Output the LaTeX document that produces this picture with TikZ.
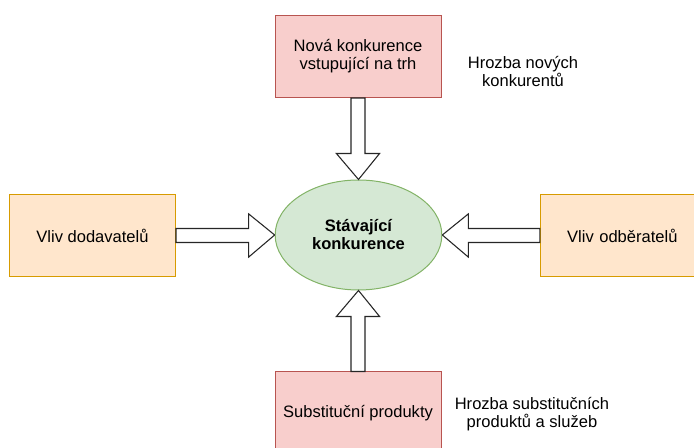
\documentclass[tikz,border=0pt]{standalone}
\usepackage{fontspec}
\setmainfont{Liberation Sans}
\usetikzlibrary{shapes.geometric,calc}
\definecolor{pinkfill}{HTML}{F8CECC}
\definecolor{pinkline}{HTML}{B85450}
\definecolor{orangefill}{HTML}{FFE6CC}
\definecolor{orangeline}{HTML}{D79B00}
\definecolor{greenfill}{HTML}{D5E8D4}
\definecolor{greenline}{HTML}{82B366}
\begin{document}
\begin{tikzpicture}[x=0.75pt,y=-0.75pt,
  every node/.style={font=\fontsize{12.4}{13.5}\selectfont, align=center, inner sep=0pt},
  forcebox/.style={draw, line width=0.75pt, minimum width=124.5pt, minimum height=61.5pt},
  threat/.style={forcebox, fill=pinkfill, draw=pinkline},
  power/.style={forcebox, fill=orangefill, draw=orangeline},
  core/.style={ellipse, draw=greenline, fill=greenfill, line width=0.75pt,
    minimum width=125pt, minimum height=82.5pt, font=\fontsize{12.4}{13.5}\selectfont\bfseries},
  fat/.style={draw=black!85, fill=white, line width=0.8pt, line join=miter}
]
\clip (0,0) rectangle (694,448);

\node[threat] (entrants) at (358,56.5) {Nová konkurence\\vstupující na trh};
\node[threat] (substitutes) at (358,413) {Substituční produkty};
\node[power] (suppliers) at (92.5,235.5) {Vliv dodavatelů};
\node[power, minimum width=130pt, text width=124.5pt] (buyers) at (627,235.5) {\hspace*{-7pt}Vliv odběratelů};
\node[core] (rivalry) at (358.5,235) {Stávající\\konkurence};

\node (entrantsnote) at (523,71) {Hrozba nových\\konkurentů};
\node (substnote) at (532,414) {Hrozba substitučních\\produktů a služeb};

% block arrows towards the central rivalry
\def\shaft{5.25pt}
\def\head{16.2pt}
\def\hlen{19.5pt}
% from above
\draw[fat] let \p1=(entrants.south), \p2=(rivalry.north) in
  (\x1-\shaft,\y1) -- (\x1-\shaft,\y2+\hlen) -- (\x1-\head,\y2+\hlen) -- (\x2,\y2)
  -- (\x1+\head,\y2+\hlen) -- (\x1+\shaft,\y2+\hlen) -- (\x1+\shaft,\y1) -- cycle;
% from below
\draw[fat] let \p1=(substitutes.north), \p2=(rivalry.south) in
  (\x1-\shaft,\y1) -- (\x1-\shaft,\y2-\hlen) -- (\x1-\head,\y2-\hlen) -- (\x2,\y2)
  -- (\x1+\head,\y2-\hlen) -- (\x1+\shaft,\y2-\hlen) -- (\x1+\shaft,\y1) -- cycle;
% from the left
\draw[fat] let \p1=(suppliers.east), \p2=(rivalry.west) in
  (\x1,\y1-\shaft) -- (\x2-\hlen,\y1-\shaft) -- (\x2-\hlen,\y1-\head) -- (\x2,\y2)
  -- (\x2-\hlen,\y1+\head) -- (\x2-\hlen,\y1+\shaft) -- (\x1,\y1+\shaft) -- cycle;
% from the right
\draw[fat] let \p1=(buyers.west), \p2=(rivalry.east) in
  (\x1,\y1-\shaft) -- (\x2+\hlen,\y1-\shaft) -- (\x2+\hlen,\y1-\head) -- (\x2,\y2)
  -- (\x2+\hlen,\y1+\head) -- (\x2+\hlen,\y1+\shaft) -- (\x1,\y1+\shaft) -- cycle;
\end{tikzpicture}
\end{document}
